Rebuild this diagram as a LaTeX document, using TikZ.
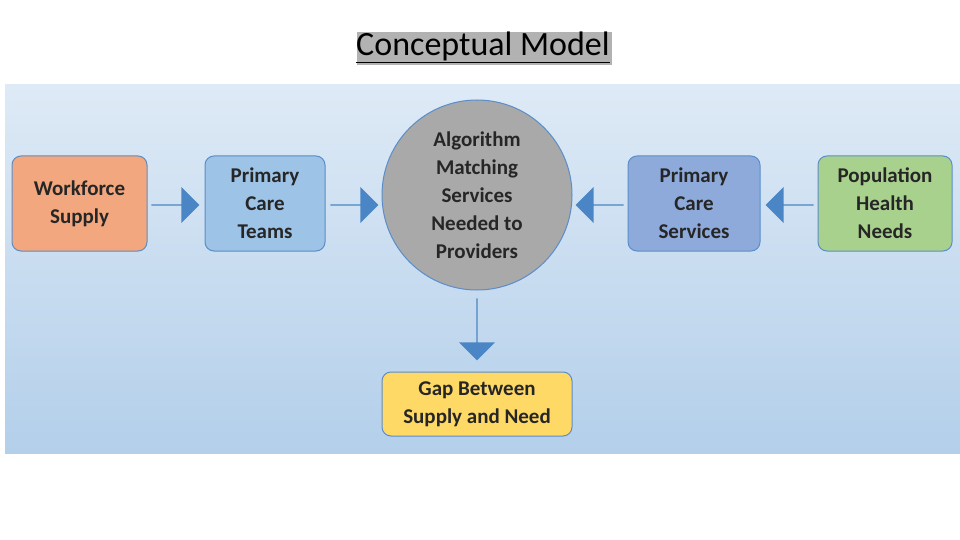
\documentclass[tikz,border=0pt]{standalone}
\usepackage{fontspec}
\setmainfont{Carlito}
\usetikzlibrary{shapes.arrows,shadows}
\definecolor{bgtop}{HTML}{DEEAF6}
\definecolor{bgbot}{HTML}{B3CFEA}
\definecolor{orangebox}{HTML}{F2A77E}
\definecolor{teambox}{HTML}{9DC3E6}
\definecolor{servbox}{HTML}{8EAADB}
\definecolor{greenbox}{HTML}{A9D18E}
\definecolor{yellowbox}{HTML}{FFD966}
\definecolor{graycirc}{HTML}{A9A9A9}
\definecolor{arrowblue}{HTML}{4A86C5}
\definecolor{edge}{HTML}{5B8DC9}
\tikzset{
 box/.style={draw=edge,line width=1pt,rounded corners=9pt,align=center,font=\fontsize{21}{28}\selectfont\bfseries,text=black!85},
 blk/.style={single arrow,fill=arrowblue,draw=none,minimum height=48pt,minimum width=36pt,single arrow head extend=6pt,inner sep=0pt}
}
\begin{document}
\begin{tikzpicture}[x=1pt,y=-1pt]
\useasboundingbox (0,0) rectangle (960,540);
\fill[white] (0,0) rectangle (960,540);
\shade[top color=bgtop,bottom color=bgbot] (5,85) rectangle (960,453);
\node[font=\fontsize{34}{40}\selectfont,text=black,drop shadow={shadow xshift=1.5pt,shadow yshift=-1.5pt,fill=gray!60,opacity=1},inner sep=1pt] (title) at (483,47) {\underline{Conceptual Model}};
\node[box,fill=orangebox,minimum width=135pt,minimum height=95pt] (ws) at (79.5,203.5) {Workforce\\Supply};
\node[box,fill=teambox,minimum width=120pt,minimum height=95pt] (pct) at (265,203.5) {Primary\\Care\\Teams};
\node[box,circle,fill=graycirc,minimum size=190pt,inner sep=0pt,rounded corners=0pt] (alg) at (477,195) {Algorithm\\Matching\\Services\\Needed to\\Providers};
\node[box,fill=servbox,minimum width=132pt,minimum height=95pt] (pcs) at (694,203.5) {Primary\\Care\\Services};
\node[box,fill=greenbox,minimum width=134pt,minimum height=95pt] (phn) at (885,203.5) {Population\\Health\\Needs};
\node[box,fill=yellowbox,minimum width=190pt,minimum height=64pt] (gap) at (477,404) {Gap Between\\Supply and Need};
\node[blk] (a1) at (175,205) {};
\node[blk] (a2) at (354,205) {};
\node[blk,shape border rotate=180] (a3) at (600,205) {};
\node[blk,shape border rotate=180] (a4) at (790,205) {};
\node[blk,shape border rotate=270,minimum height=62pt] (a5) at (477,329) {};
\end{tikzpicture}
\end{document}
